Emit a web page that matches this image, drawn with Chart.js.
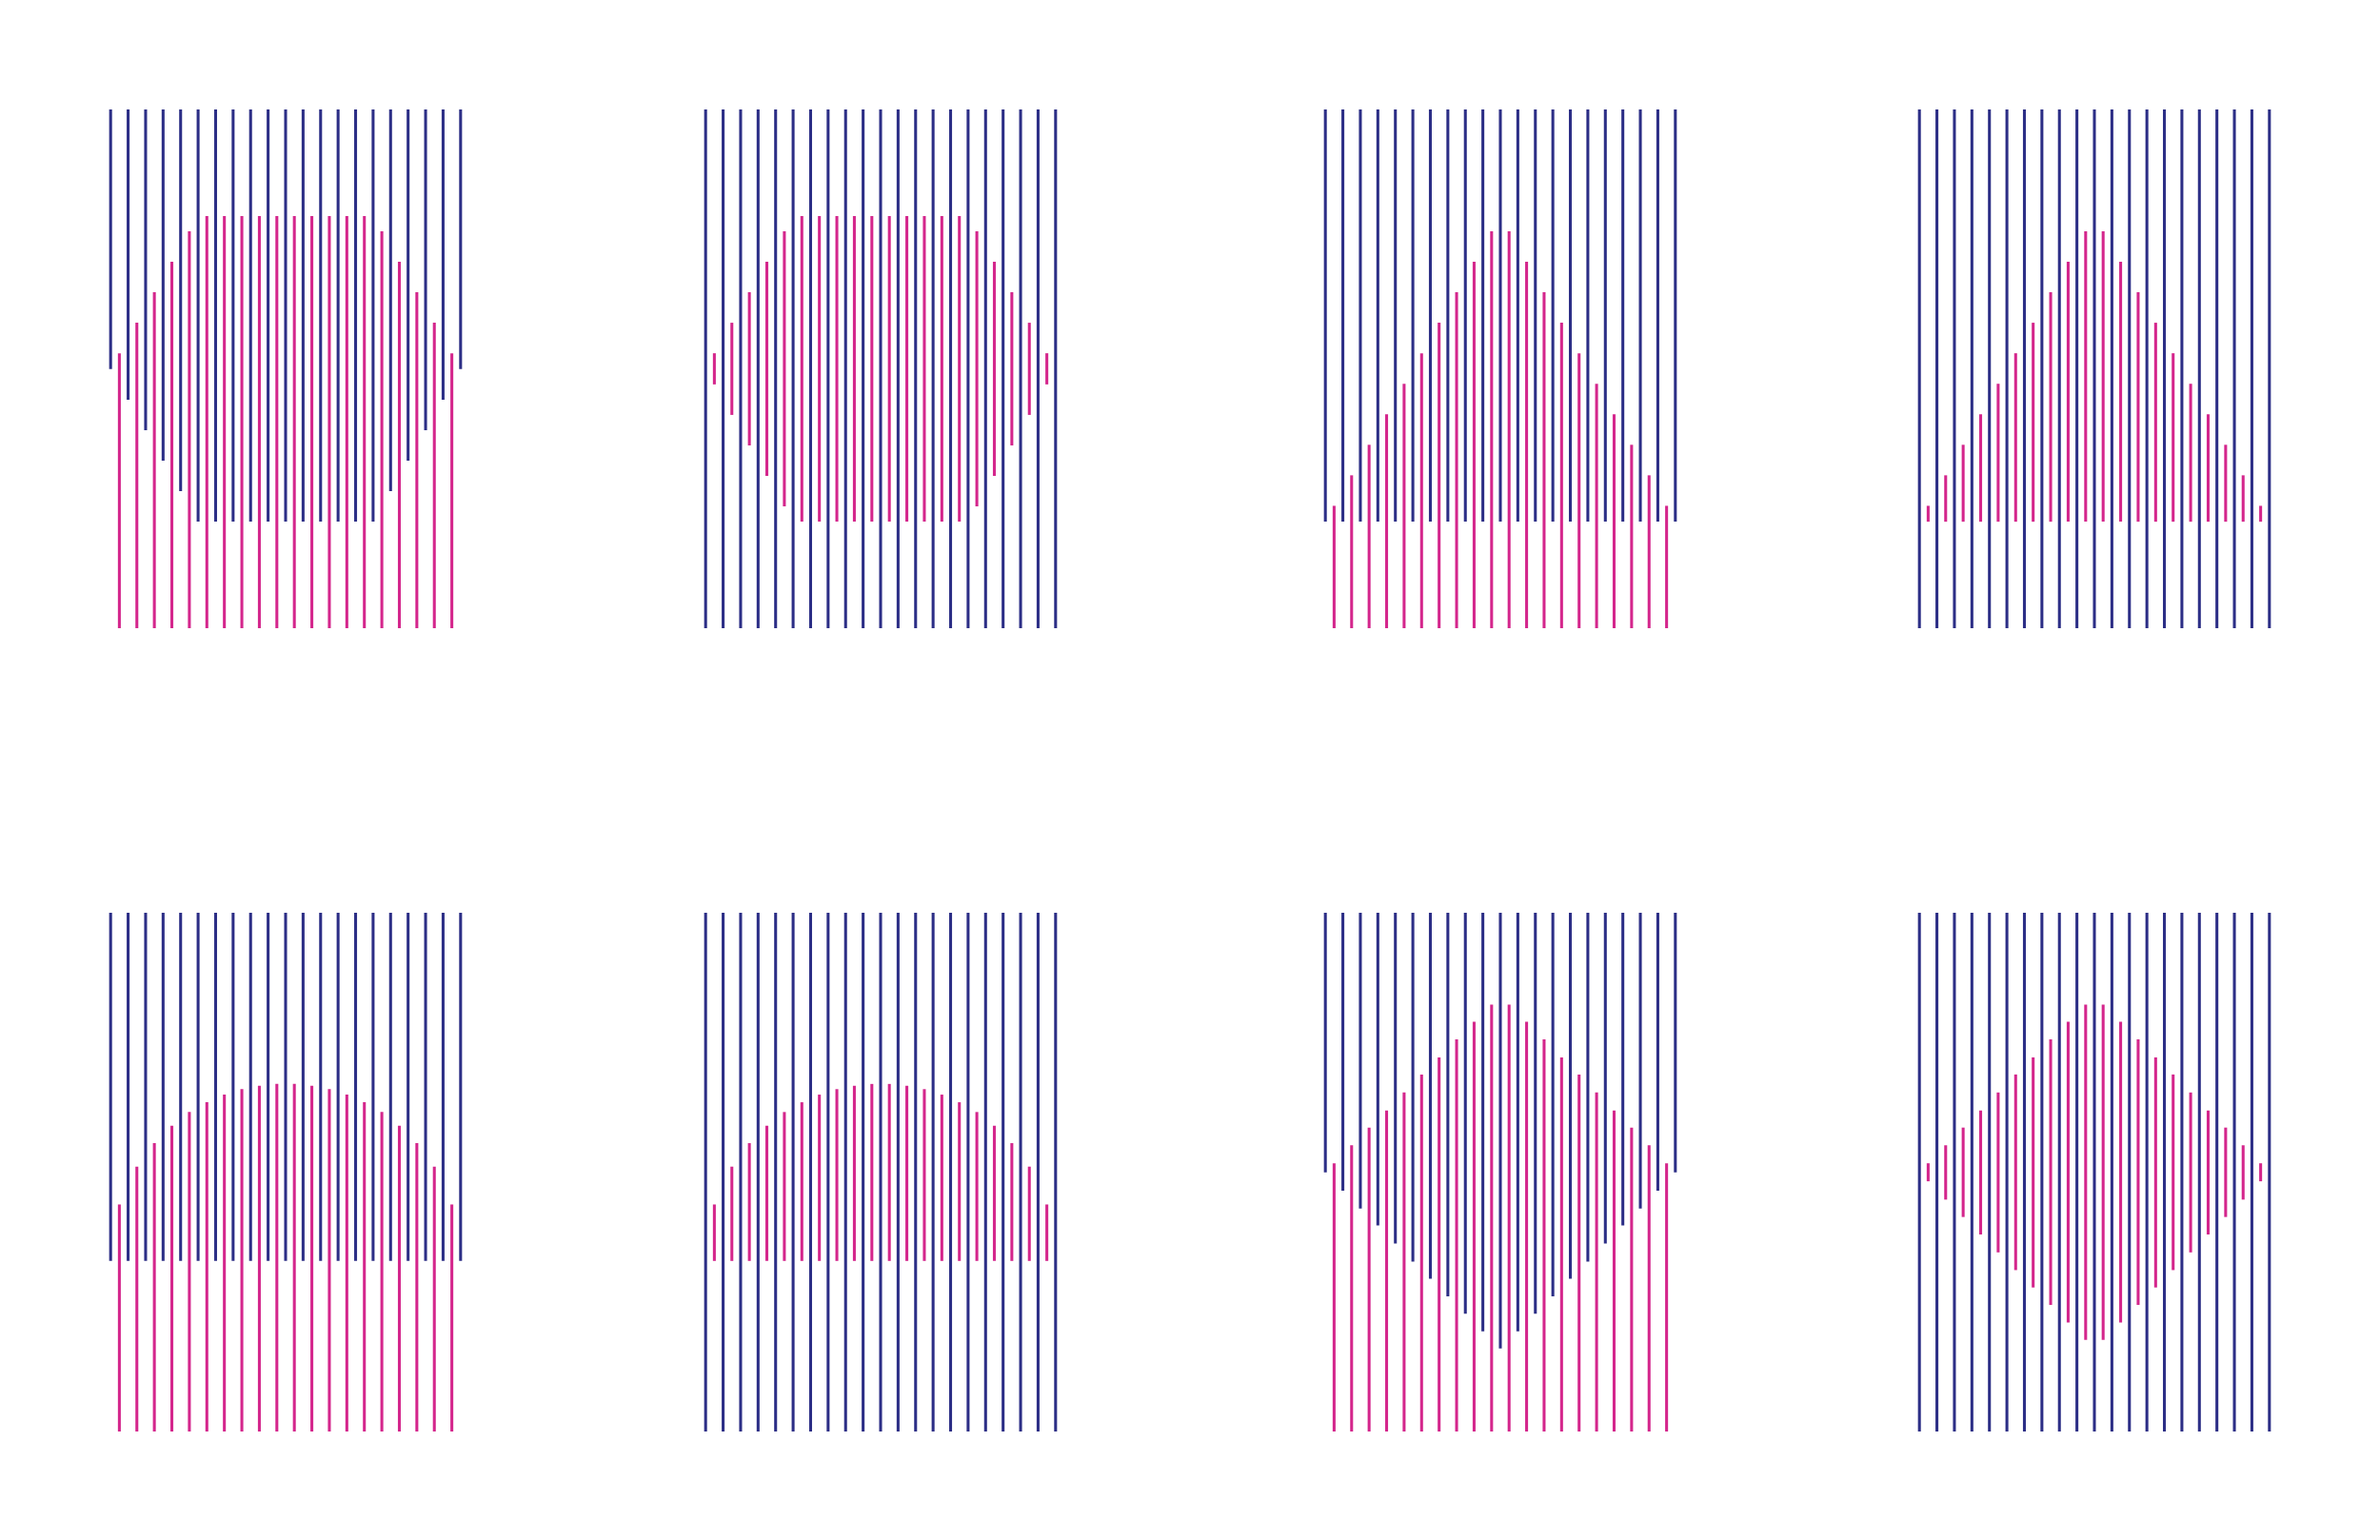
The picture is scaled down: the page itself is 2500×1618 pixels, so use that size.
<!DOCTYPE html>
<html>
<head>
<meta charset="utf-8">
<script src="https://cdn.jsdelivr.net/npm/chart.js@4.4.1/dist/chart.umd.min.js"></script>
<style>
  html, body { margin: 0; padding: 0; background: #ffffff; }
  body { width: 2500px; height: 1618px; position: relative; overflow: hidden; }
  canvas { position: absolute; }
</style>
</head>
<body>
<script>
// positions of the lines (x units)
const lineX = [0, 1, 2, 3, 4, 5, 6, 7, 8, 9, 10, 11, 12, 13, 14, 15, 16, 17, 18, 19, 20];
const midX = [0.5, 1.5, 2.5, 3.5, 4.5, 5.5, 6.5, 7.5, 8.5, 9.5, 10.5, 11.5, 12.5, 13.5, 14.5, 15.5, 16.5, 17.5, 18.5, 19.5];
const yMax = 17;

// panel 1 / 2 : clipped triangle
const blueLow1 = [8.5, 7.5, 6.5, 5.5, 4.5, 3.5, 3.5, 3.5, 3.5, 3.5, 3.5, 3.5, 3.5, 3.5, 3.5, 3.5, 4.5, 5.5, 6.5, 7.5, 8.5];
const pinkHigh1 = [9, 10, 11, 12, 13, 13.5, 13.5, 13.5, 13.5, 13.5, 13.5, 13.5, 13.5, 13.5, 13.5, 13, 12, 11, 10, 9];
const pinkLow2 = [8, 7, 6, 5, 4, 3.5, 3.5, 3.5, 3.5, 3.5, 3.5, 3.5, 3.5, 3.5, 3.5, 4, 5, 6, 7, 8];

// panel 3 / 4 : triangle on a flat base
const blueLow3 = [3.5, 3.5, 3.5, 3.5, 3.5, 3.5, 3.5, 3.5, 3.5, 3.5, 3.5, 3.5, 3.5, 3.5, 3.5, 3.5, 3.5, 3.5, 3.5, 3.5, 3.5];
const pinkHigh3 = [4, 5, 6, 7, 8, 9, 10, 11, 12, 13, 13, 12, 11, 10, 9, 8, 7, 6, 5, 4];
const pinkLow4 = [3.5, 3.5, 3.5, 3.5, 3.5, 3.5, 3.5, 3.5, 3.5, 3.5, 3.5, 3.5, 3.5, 3.5, 3.5, 3.5, 3.5, 3.5, 3.5, 3.5];

// panel 5 / 6 : round cap on a flat base
const blueLow5 = [5.6, 5.6, 5.6, 5.6, 5.6, 5.6, 5.6, 5.6, 5.6, 5.6, 5.6, 5.6, 5.6, 5.6, 5.6, 5.6, 5.6, 5.6, 5.6, 5.6, 5.6];
const pinkHigh5 = [7.43, 8.67, 9.44, 10.01, 10.46, 10.78, 11.03, 11.21, 11.32, 11.38, 11.38, 11.32, 11.21, 11.03, 10.78, 10.46, 10.01, 9.44, 8.67, 7.43];
const pinkLow6 = [5.6, 5.6, 5.6, 5.6, 5.6, 5.6, 5.6, 5.6, 5.6, 5.6, 5.6, 5.6, 5.6, 5.6, 5.6, 5.6, 5.6, 5.6, 5.6, 5.6];

// panel 7 / 8 : diamond
const blueLow7 = [8.5, 7.9, 7.32, 6.76, 6.17, 5.58, 5.02, 4.44, 3.87, 3.29, 2.73, 3.29, 3.87, 4.44, 5.02, 5.58, 6.17, 6.76, 7.32, 7.9, 8.5];
const pinkHigh7 = [8.78, 9.37, 9.95, 10.51, 11.1, 11.69, 12.25, 12.84, 13.42, 13.98, 13.98, 13.42, 12.84, 12.25, 11.69, 11.1, 10.51, 9.95, 9.37, 8.78];
const pinkLow8 = [8.21, 7.61, 7.04, 6.47, 5.88, 5.3, 4.73, 4.16, 3.58, 3.01, 3.01, 3.58, 4.16, 4.73, 5.3, 5.88, 6.47, 7.04, 7.61, 8.21];

const zeros20 = [0, 0, 0, 0, 0, 0, 0, 0, 0, 0, 0, 0, 0, 0, 0, 0, 0, 0, 0, 0];
const zeros21 = [0, 0, 0, 0, 0, 0, 0, 0, 0, 0, 0, 0, 0, 0, 0, 0, 0, 0, 0, 0, 0];
const tops21 = [17, 17, 17, 17, 17, 17, 17, 17, 17, 17, 17, 17, 17, 17, 17, 17, 17, 17, 17, 17, 17];

const BLUE = '#2c2e86';
const PINK = '#d4268c';

const panels = [
  { left: 106.5, top: 115, blueLow: blueLow1, pinkLow: zeros20, pinkHigh: pinkHigh1 },
  { left: 731.5, top: 115, blueLow: zeros21, pinkLow: pinkLow2, pinkHigh: pinkHigh1 },
  { left: 1382.5, top: 115, blueLow: blueLow3, pinkLow: zeros20, pinkHigh: pinkHigh3 },
  { left: 2006.8, top: 115, blueLow: zeros21, pinkLow: pinkLow4, pinkHigh: pinkHigh3 },
  { left: 106.5, top: 959, blueLow: blueLow5, pinkLow: zeros20, pinkHigh: pinkHigh5 },
  { left: 731.5, top: 959, blueLow: zeros21, pinkLow: pinkLow6, pinkHigh: pinkHigh5 },
  { left: 1382.5, top: 959, blueLow: blueLow7, pinkLow: zeros20, pinkHigh: pinkHigh7 },
  { left: 2006.8, top: 959, blueLow: zeros21, pinkLow: pinkLow8, pinkHigh: pinkHigh7 }
];

const W = 386;
const H = 545;

panels.forEach(p => {
  const canvas = document.createElement('canvas');
  canvas.width = W;
  canvas.height = H;
  canvas.style.left = p.left + 'px';
  canvas.style.top = p.top + 'px';
  canvas.style.width = W + 'px';
  canvas.style.height = H + 'px';
  document.body.appendChild(canvas);

  new Chart(canvas.getContext('2d'), {
    type: 'bar',
    data: {
      datasets: [
        {
          data: lineX.map((x, i) => ({ x: x, y: [p.blueLow[i], tops21[i]] })),
          backgroundColor: BLUE,
          borderWidth: 0,
          barThickness: 2.4,
          grouped: false
        },
        {
          data: midX.map((x, i) => ({ x: x, y: [p.pinkLow[i], p.pinkHigh[i]] })),
          backgroundColor: PINK,
          borderWidth: 0,
          barThickness: 2.4,
          grouped: false
        }
      ]
    },
    options: {
      animation: false,
      responsive: false,
      maintainAspectRatio: false,
      layout: { padding: 0 },
      plugins: { legend: { display: false }, tooltip: { enabled: false } },
      scales: {
        x: { type: 'linear', min: -0.5, max: 20.5, offset: false, display: false },
        y: { min: 0, max: yMax, display: false }
      }
    }
  });
});
</script>
</body>
</html>
